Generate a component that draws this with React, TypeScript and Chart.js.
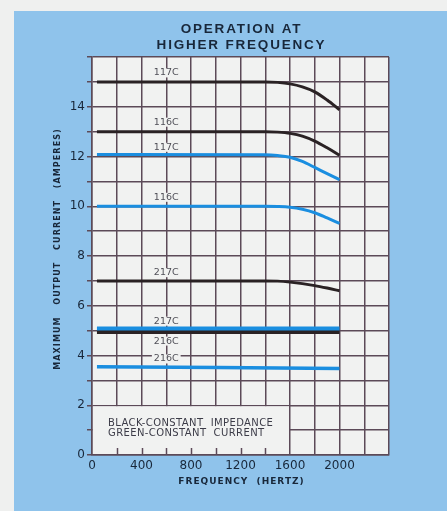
import React, { useEffect, useRef } from "react";
import { Chart, registerables } from "chart.js";

Chart.register(...registerables);

// ---- data ----
const xTickLabels = [0, 400, 800, 1200, 1600, 2000];
const yTickLabels = [0, 2, 4, 6, 8, 10, 12, 14];

const freqCurve = [40, 1400, 1500, 1600, 1700, 1800, 1900, 2000];
const black117C = [15, 15, 14.98, 14.92, 14.8, 14.6, 14.27, 13.88];
const black116C = [13, 13, 12.98, 12.93, 12.82, 12.62, 12.35, 12.05];
const green117C = [12.08, 12.07, 12.04, 11.97, 11.8, 11.56, 11.31, 11.07];
const green116C = [10, 10, 9.99, 9.96, 9.88, 9.74, 9.53, 9.31];
const black217C = [7, 7, 6.99, 6.95, 6.89, 6.81, 6.71, 6.6];

const freqFlat = [40, 2000];
const green217C = [5.09, 5.09];
const black216C = [4.94, 4.94];
const green216C = [3.55, 3.48];

const curveLabels = ["117C", "116C", "117C", "116C", "217C", "217C", "216C", "216C"];
const curveLabelFreq = [600, 600, 600, 600, 600, 600, 600, 600];
const curveLabelAmps = [15.36, 13.38, 12.37, 10.36, 7.33, 5.38, 4.58, 3.86];

const titleLines = ["OPERATION AT", "HIGHER FREQUENCY"];
const xTitle = "FREQUENCY  (HERTZ)";
const yTitle = "MAXIMUM   OUTPUT   CURRENT   (AMPERES)";
const noteLines = ["BLACK-CONSTANT  IMPEDANCE", "GREEN-CONSTANT  CURRENT"];
const noteBoxFreq = 1600;
const noteBoxAmps = 2;

// ---- styles ----
const BLACK = "#2a2224";
const GREEN = "#1a8ee0";
const GRID = "#5c4a58";
const PLOT_BG = "#f1f2f1";
const PANEL = "#8fc3eb";
const PAGE = "#eff0ef";
const INK = "#18273a";

const pts = (xs: number[], ys: number[]) => xs.map((x, i) => ({ x, y: ys[i] }));

export default function App() {
  const ref = useRef<HTMLCanvasElement | null>(null);

  useEffect(() => {
    const canvas = ref.current!;
    const decor = {
      id: "decor",
      beforeDraw(chart: any) {
        const { ctx, chartArea: a } = chart;
        ctx.save();
        ctx.fillStyle = PAGE;
        ctx.fillRect(0, 0, chart.width, chart.height);
        ctx.fillStyle = PANEL;
        ctx.fillRect(14, 11, chart.width - 14, chart.height - 11);
        ctx.fillStyle = PLOT_BG;
        ctx.fillRect(a.left, a.top, a.right - a.left, a.bottom - a.top);
        ctx.restore();
      },
      beforeDatasetsDraw(chart: any) {
        const { ctx, scales } = chart;
        const xs = scales.x, ys = scales.y;
        ctx.save();
        // note box
        const l = xs.getPixelForValue(0) + 1;
        const r = xs.getPixelForValue(noteBoxFreq) - 1;
        const t = ys.getPixelForValue(noteBoxAmps) + 1;
        const b = ys.getPixelForValue(0) - 1;
        ctx.fillStyle = PLOT_BG;
        ctx.fillRect(l, t, r - l, b - t);
        ctx.strokeStyle = GRID;
        ctx.lineWidth = 1.5;
        for (let f = 200; f < noteBoxFreq; f += 200) {
          const px = Math.round(xs.getPixelForValue(f)) + 0.5;
          ctx.beginPath();
          ctx.moveTo(px, b + 1);
          ctx.lineTo(px, b - 6);
          ctx.stroke();
        }
        ctx.fillStyle = "#3c3c48";
        ctx.font = "10px 'DejaVu Sans'";
        (ctx as any).letterSpacing = "0.4px";
        ctx.textBaseline = "middle";
        ctx.textAlign = "left";
        noteLines.forEach((s, i) => ctx.fillText(s, l + 15, t + 17 + i * 10));
        (ctx as any).letterSpacing = "0px";
        // curve labels
        ctx.font = "9.5px 'DejaVu Sans'";
        ctx.textAlign = "center";
        curveLabels.forEach((s, i) => {
          const px = xs.getPixelForValue(curveLabelFreq[i]);
          const py = ys.getPixelForValue(curveLabelAmps[i]);
          const w = ctx.measureText(s).width;
          ctx.fillStyle = PLOT_BG;
          ctx.fillRect(px - w / 2 - 2, py - 4.5, w + 4, 9);
          ctx.fillStyle = "#505058";
          ctx.fillText(s, px, py);
        });
        ctx.restore();
      },
      afterDraw(chart: any) {
        const { ctx, chartArea: a } = chart;
        ctx.save();
        ctx.fillStyle = INK;
        ctx.textAlign = "center";
        ctx.textBaseline = "middle";
        ctx.font = "bold 13.5px 'Liberation Sans'";
        (ctx as any).letterSpacing = "1.8px";
        const cx = (a.left + a.right) / 2 + 1;
        ctx.fillText(titleLines[0], cx, 29.5);
        ctx.fillText(titleLines[1], cx, 45);
        ctx.font = "bold 9px 'DejaVu Sans'";
        (ctx as any).letterSpacing = "1px";
        ctx.fillText(xTitle, cx, 482);
        ctx.translate(58, 249);
        ctx.rotate(-Math.PI / 2);
        ctx.font = "bold 8px 'DejaVu Sans'";
        (ctx as any).letterSpacing = "1.1px";
        ctx.fillText(yTitle, 0, 0);
        ctx.restore();
      },
    };

    const mk = (label: string, xs: number[], ys: number[], color: string, w: number) => ({
      label,
      data: pts(xs, ys),
      borderColor: color,
      borderWidth: w,
      pointRadius: 0,
      cubicInterpolationMode: "monotone" as const,
      borderCapStyle: "butt" as const,
      fill: false,
    });

    const chart = new Chart(canvas, {
      type: "line",
      data: {
        datasets: [
          mk("117C black", freqCurve, black117C, BLACK, 3),
          mk("116C black", freqCurve, black116C, BLACK, 3),
          mk("117C green", freqCurve, green117C, GREEN, 3),
          mk("116C green", freqCurve, green116C, GREEN, 3),
          mk("217C black", freqCurve, black217C, BLACK, 3),
          mk("217C green", freqFlat, green217C, GREEN, 4),
          mk("216C black", freqFlat, black216C, BLACK, 4),
          mk("216C green", freqFlat, green216C, GREEN, 3.5),
        ],
      },
      options: {
        animation: false,
        responsive: false,
        events: [],
        layout: { padding: { left: 0, top: 57, right: 58, bottom: 0 } },
        plugins: { legend: { display: false }, tooltip: { enabled: false }, title: { display: false } },
        scales: {
          x: {
            type: "linear",
            min: 0,
            max: 2400,
            afterFit: (s: any) => { s.height = 56; },
            grid: { color: GRID, lineWidth: 1.5, drawTicks: false },
            border: { color: GRID, width: 1.5 },
            ticks: {
              stepSize: 200,
              autoSkip: false,
              maxRotation: 0,
              padding: 4,
              color: INK,
              font: { family: "'DejaVu Sans'", size: 12 },
              callback: (v: any) => (xTickLabels.includes(Number(v)) ? String(v) : ""),
            },
          },
          y: {
            type: "linear",
            min: 0,
            max: 16,
            afterFit: (s: any) => { s.width = 92; },
            grid: { color: GRID, lineWidth: 1.5, drawTicks: true, tickLength: 5 },
            border: { color: GRID, width: 1.5 },
            ticks: {
              stepSize: 1,
              autoSkip: false,
              padding: 2,
              color: INK,
              font: { family: "'DejaVu Sans'", size: 12 },
              callback: (v: any) => (yTickLabels.includes(Number(v)) ? String(v) : ""),
            },
          },
        },
      },
      plugins: [decor],
    } as any);
    return () => chart.destroy();
  }, []);

  return (
    <div style={{ position: "fixed", left: 0, top: 0, width: 447, height: 511 }}>
      <canvas ref={ref} width={447} height={511} style={{ display: "block", width: 447, height: 511 }} />
    </div>
  );
}
